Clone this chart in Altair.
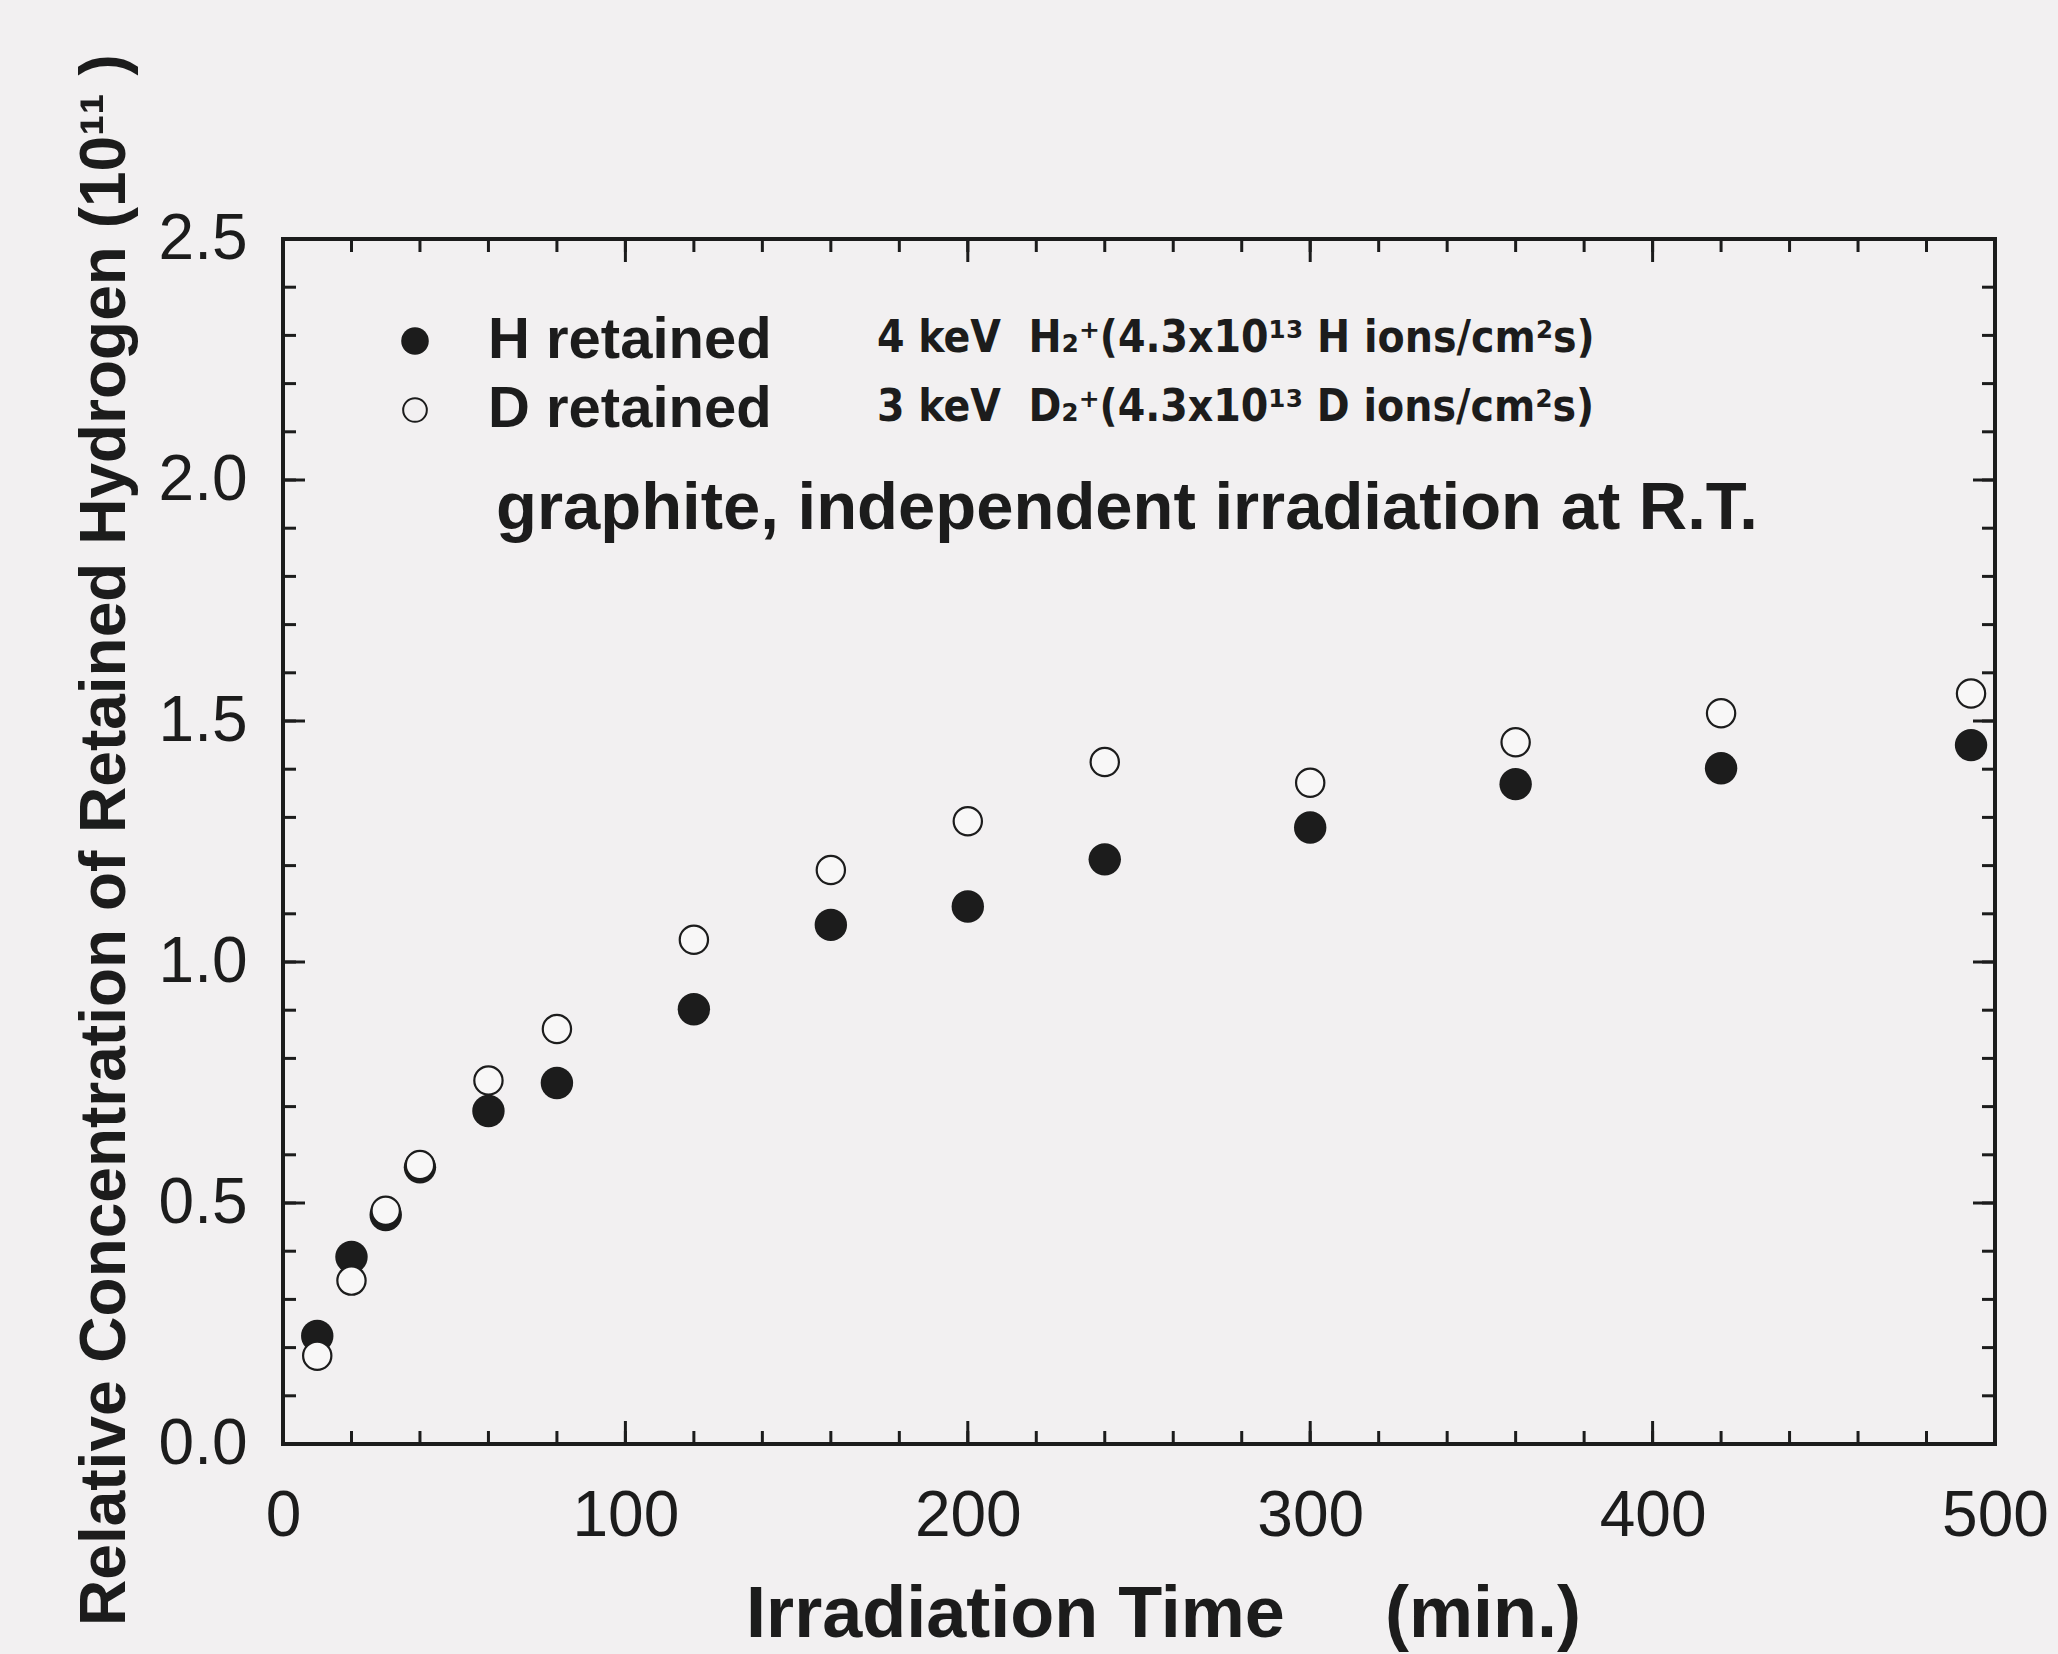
import altair as alt
import pandas as pd

# ---- data ----
time_min = [10, 20, 30, 40, 60, 80, 120, 160, 200, 240, 300, 360, 420, 493]
h_retained = [0.224, 0.388, 0.475, 0.574, 0.691, 0.749, 0.902, 1.077, 1.115, 1.213, 1.279, 1.369, 1.402, 1.450]
d_retained = [0.183, 0.339, 0.484, 0.579, 0.754, 0.861, 1.046, 1.191, 1.292, 1.415, 1.372, 1.456, 1.516, 1.557]

x_major = [0, 100, 200, 300, 400, 500]
x_minor = [v for v in range(0, 501, 20)]
y_major = [0.0, 0.5, 1.0, 1.5, 2.0, 2.5]
y_minor = [round(i * 0.1, 1) for i in range(0, 26)]

series_labels = ["H retained", "D retained"]
series_conditions = [
    "4 keV\u00a0\u00a0H\u2082\u207a(4.3x10\u00b9\u00b3 H ions/cm\u00b2s)",
    "3 keV\u00a0\u00a0D\u2082\u207a(4.3x10\u00b9\u00b3 D ions/cm\u00b2s)",
]
note_text = "graphite, independent irradiation at R.T."
x_title = "Irradiation Time\u00a0\u00a0\u00a0\u00a0\u00a0(min.)"
y_title = "Relative Concentration of Retained Hydrogen (10\u00b9\u00b9 )"

W, H = 1712, 1205
FONT = "Liberation Sans, Arial, Helvetica, sans-serif"
NARROW = "Liberation Sans Narrow, Arial Narrow, DejaVu Sans Condensed, sans-serif"
INK = "#1c1c1c"
BG = "#f2f0f1"

xs = alt.Scale(domain=[0, 500], nice=False, zero=False)
ys = alt.Scale(domain=[0, 2.5], nice=False, zero=False)

df_h = pd.DataFrame({"time": time_min, "value": h_retained})
df_d = pd.DataFrame({"time": time_min, "value": d_retained})

x_axis = alt.Axis(
    values=x_major, labelFontSize=64, labelFont=FONT, labelColor=INK,
    ticks=False, tickSize=0, domain=False, grid=False, labelPadding=40,
    labelFlush=False, labelOverlap=False,
    title=x_title, titleFont=FONT, titleFontSize=72, titleFontWeight="bold",
    titleColor=INK, titleX=880, titleY=170, titleBaseline="middle",
)
y_axis = alt.Axis(
    values=y_major, format=".1f", labelFontSize=64, labelFont=FONT, labelColor=INK,
    ticks=False, tickSize=0, domain=False, grid=False, labelPadding=36,
    labelFlush=False, labelOverlap=False,
    title=y_title, titleFont=FONT, titleFontSize=64, titleFontWeight="bold",
    titleColor=INK, titleX=-178, titleY=H / 2 - 2, titleBaseline="middle", titleAngle=270,
)

h_pts = alt.Chart(df_h).mark_point(shape="circle", filled=True, size=1050, color=INK, opacity=1).encode(
    x=alt.X("time:Q", scale=xs, axis=x_axis),
    y=alt.Y("value:Q", scale=ys, axis=y_axis),
)
d_pts = alt.Chart(df_d).mark_point(shape="circle", filled=False, size=800, fill="#f8f7f7",
                                   fillOpacity=1, stroke=INK, strokeWidth=2.2, opacity=1).encode(
    x=alt.X("time:Q", scale=xs),
    y=alt.Y("value:Q", scale=ys),
)

# inward ticks on all four sides
xmaj = pd.DataFrame({"time": x_major})
xmin = pd.DataFrame({"time": x_minor})
ymaj = pd.DataFrame({"value": y_major})
ymin = pd.DataFrame({"value": y_minor})

def xticks(df, length):
    bot = alt.Chart(df).mark_rule(color=INK, strokeWidth=3).encode(
        x=alt.X("time:Q", scale=xs), y=alt.value(H), y2=alt.value(H - length))
    top = alt.Chart(df).mark_rule(color=INK, strokeWidth=3).encode(
        x=alt.X("time:Q", scale=xs), y=alt.value(0), y2=alt.value(length))
    return [bot, top]

def yticks(df, length):
    left = alt.Chart(df).mark_rule(color=INK, strokeWidth=3).encode(
        y=alt.Y("value:Q", scale=ys), x=alt.value(0), x2=alt.value(length))
    right = alt.Chart(df).mark_rule(color=INK, strokeWidth=3).encode(
        y=alt.Y("value:Q", scale=ys), x=alt.value(W), x2=alt.value(W - length))
    return [left, right]

tick_layers = xticks(xmin, 13) + xticks(xmaj, 23) + yticks(ymin, 13) + yticks(ymaj, 22)

# legend drawn inside the frame
one_h = pd.DataFrame({"label": [series_labels[0]], "cond": [series_conditions[0]]})
one_d = pd.DataFrame({"label": [series_labels[1]], "cond": [series_conditions[1]]})
note_df = pd.DataFrame({"note": [note_text]})

leg_h_sym = alt.Chart(one_h).mark_point(shape="circle", filled=True, size=760, color=INK, opacity=1).encode(
    x=alt.value(132), y=alt.value(102))
leg_d_sym = alt.Chart(one_d).mark_point(shape="circle", filled=False, size=560, stroke=INK,
                                        strokeWidth=2, opacity=1).encode(
    x=alt.value(132), y=alt.value(171))
leg_h_txt = alt.Chart(one_h).mark_text(align="left", baseline="middle", font=FONT, fontSize=58,
                                       fontWeight="bold", color=INK).encode(
    x=alt.value(205), y=alt.value(102), text="label:N")
leg_d_txt = alt.Chart(one_d).mark_text(align="left", baseline="middle", font=FONT, fontSize=58,
                                       fontWeight="bold", color=INK).encode(
    x=alt.value(205), y=alt.value(171), text="label:N")
cond_h_txt = alt.Chart(one_h).mark_text(align="left", baseline="middle", font=NARROW, fontSize=44,
                                        fontWeight="bold", color=INK).encode(
    x=alt.value(594), y=alt.value(100), text="cond:N")
cond_d_txt = alt.Chart(one_d).mark_text(align="left", baseline="middle", font=NARROW, fontSize=44,
                                        fontWeight="bold", color=INK).encode(
    x=alt.value(594), y=alt.value(169), text="cond:N")
note_txt = alt.Chart(note_df).mark_text(align="left", baseline="middle", font=FONT, fontSize=67,
                                        fontWeight="bold", color=INK).encode(
    x=alt.value(213), y=alt.value(270), text="note:N")

chart = alt.layer(
    h_pts, d_pts, *tick_layers,
    leg_h_sym, leg_d_sym, leg_h_txt, leg_d_txt, cond_h_txt, cond_d_txt, note_txt,
).properties(
    width=W, height=H,
    autosize=alt.AutoSizeParams(type="none"),
    padding={"left": 283, "top": 239, "right": 63, "bottom": 210},
    background=BG,
).configure_view(
    stroke=INK, strokeWidth=4,
)

chart.save("out.html", embed_options={"renderer": "svg", "actions": False})
